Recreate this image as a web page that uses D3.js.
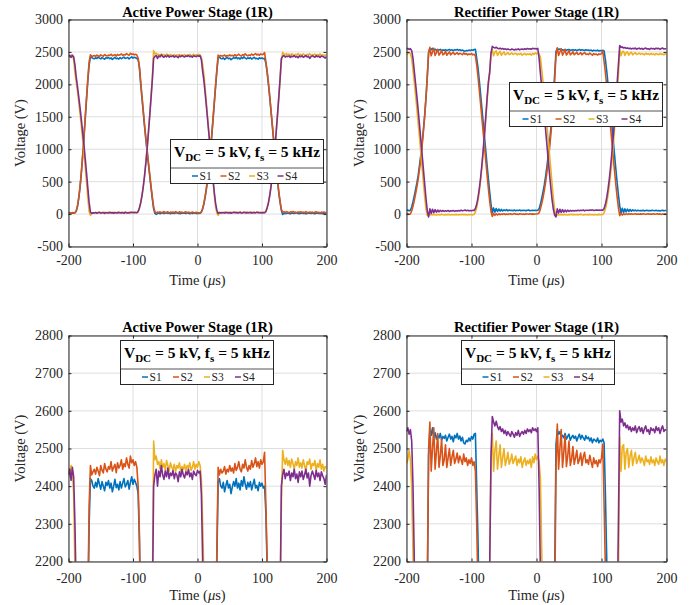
<!DOCTYPE html>
<html>
<head>
<meta charset="utf-8">
<title>Switch voltages, 1R</title>
<script src="https://cdn.jsdelivr.net/npm/d3@7"></script>
<style>
	body { margin: 0; background: #fff; }
	#scope-plot { display: block; font-family: "Liberation Serif", "Times New Roman", Times, serif; }
	#scope-plot text { white-space: pre; }
</style>
</head>
<body>
<svg id="scope-plot" width="691" height="605" viewBox="0 0 691 605"></svg>
<script>

// scope traces: one sample every 2 us, from -200 us to 200 us (201 samples)
const time_us = d3.range(-200, 201, 2);

// Active power stage, switch voltages (V)
const active_s1 = [
	15, 20, 12, 18, 15, 20, 45, 120, 250, 420,
	640, 900, 1180, 1480, 1780, 2060, 2300, 2420, 2415, 2400,
	2395, 2410, 2398, 2420, 2405, 2392, 2412, 2400, 2388, 2410,
	2402, 2415, 2395, 2408, 2385, 2400, 2418, 2396, 2405, 2390,
	2412, 2395, 2408, 2420, 2398, 2405, 2415, 2392, 2410, 2425,
	2405, 2418, 2410, 2400, 2380, 2250, 2000, 1780, 1560, 1340,
	1140, 950, 760, 580, 400, 230, 80, 10, -5, 8,
	15, 5, 12, 20, 8, 14, 22, 10, 15, 5,
	12, 18, 8, 15, 22, 10, 14, 6, 18, 12,
	15, 8, 20, 12, 5, 16, 10, 18, 12, 8,
	14, 10, 12, 30, 80, 160, 270, 400, 560, 750,
	960, 1190, 1440, 1700, 1960, 2200, 2410, 2420, 2400, 2395,
	2410, 2385, 2402, 2415, 2395, 2405, 2380, 2398, 2412, 2400,
	2420, 2395, 2408, 2390, 2415, 2400, 2425, 2405, 2392, 2410,
	2398, 2412, 2390, 2405, 2418, 2395, 2402, 2388, 2410, 2400,
	2408, 2395, 2400, 2330, 2180, 2000, 1800, 1580, 1360, 1140,
	920, 710, 510, 330, 180, 60, -5, 5, 12, 8,
	15, 10, 5, 18, 12, 8, 15, 20, 10, 6,
	12, 18, 8, 14, 5, 10, 16, 12, 8, 15,
	10, 5, 12, 18, 8, 14, 10, 6, 12, 15,
	10
];
const active_s2 = [
	18, 22, 15, 25, 20, 18, 50, 130, 265, 440,
	660, 920, 1200, 1500, 1800, 2090, 2350, 2455, 2430, 2438,
	2445, 2432, 2450, 2440, 2428, 2455, 2442, 2435, 2460, 2445,
	2438, 2452, 2445, 2465, 2440, 2450, 2458, 2436, 2462, 2448,
	2455, 2470, 2445, 2460, 2452, 2475, 2458, 2448, 2480, 2462,
	2470, 2455, 2465, 2450, 2400, 2270, 2030, 1810, 1590, 1370,
	1170, 980, 790, 610, 430, 260, 110, 35, 20, 30,
	25, 35, 20, 30, 40, 22, 28, 35, 18, 30,
	25, 32, 20, 38, 28, 22, 35, 25, 30, 18,
	28, 35, 22, 30, 25, 18, 32, 25, 20, 28,
	22, 18, 20, 35, 85, 170, 285, 420, 580, 770,
	985, 1215, 1465, 1725, 1985, 2230, 2450, 2430, 2445, 2435,
	2440, 2452, 2432, 2445, 2438, 2455, 2440, 2448, 2435, 2460,
	2442, 2450, 2465, 2445, 2438, 2458, 2448, 2470, 2450, 2440,
	2455, 2445, 2468, 2450, 2460, 2475, 2452, 2465, 2448, 2470,
	2458, 2465, 2490, 2350, 2200, 2020, 1820, 1600, 1380, 1160,
	940, 730, 530, 350, 200, 75, 30, 35, 25, 38,
	30, 22, 35, 28, 40, 25, 30, 20, 32, 28,
	35, 25, 30, 22, 38, 28, 20, 32, 25, 30,
	22, 30, 35, 25, 28, 18, 30, 25, 32, 22,
	25
];
const active_s3 = [
	2450, 2425, 2455, 2440, 2380, 2180, 2040, 1890, 1720, 1540,
	1350, 1150, 940, 720, 490, 250, 40, -20, 10, 20,
	15, 25, 18, 30, 20, 12, 25, 18, 28, 15,
	22, 30, 15, 25, 20, 28, 12, 22, 30, 18,
	25, 15, 28, 20, 32, 18, 24, 15, 28, 20,
	25, 18, 22, 20, 40, 100, 185, 300, 440, 610,
	810, 1030, 1280, 1540, 1810, 2090, 2520, 2470, 2480, 2458,
	2465, 2445, 2470, 2450, 2460, 2442, 2468, 2455, 2440, 2462,
	2450, 2445, 2458, 2438, 2455, 2448, 2462, 2440, 2452, 2445,
	2458, 2440, 2455, 2448, 2462, 2442, 2450, 2465, 2445, 2458,
	2450, 2465, 2455, 2420, 2300, 2150, 1920, 1690, 1450, 1210,
	980, 750, 520, 300, 120, 20, -20, 15, 22, 18,
	25, 30, 18, 22, 28, 15, 30, 20, 25, 35,
	22, 28, 18, 30, 25, 15, 28, 22, 32, 20,
	25, 18, 30, 22, 28, 20, 25, 32, 18, 25,
	22, 28, 20, 40, 100, 180, 290, 430, 600, 800,
	1020, 1270, 1530, 1800, 2080, 2350, 2495, 2470, 2458, 2475,
	2455, 2468, 2450, 2472, 2460, 2445, 2465, 2455, 2475, 2450,
	2462, 2448, 2470, 2455, 2440, 2465, 2458, 2472, 2445, 2460,
	2455, 2468, 2442, 2460, 2450, 2470, 2445, 2458, 2440, 2452,
	2448
];
const active_s4 = [
	2430, 2445, 2415, 2450, 2425, 2300, 2110, 1960, 1800, 1630,
	1450, 1260, 1060, 850, 630, 400, 180, 30, 10, 20,
	18, 25, 12, 22, 28, 15, 20, 25, 10, 22,
	20, 15, 28, 18, 22, 12, 25, 20, 15, 28,
	18, 25, 20, 12, 28, 22, 15, 25, 20, 30,
	22, 28, 25, 20, 38, 95, 175, 285, 425, 595,
	795, 1015, 1265, 1525, 1795, 2075, 2400, 2430, 2445, 2400,
	2440, 2425, 2455, 2430, 2418, 2440, 2425, 2448, 2420, 2435,
	2428, 2442, 2420, 2435, 2430, 2412, 2438, 2425, 2445, 2430,
	2422, 2438, 2430, 2445, 2425, 2435, 2418, 2440, 2432, 2428,
	2442, 2435, 2440, 2380, 2200, 2050, 1850, 1640, 1420, 1200,
	980, 760, 540, 340, 170, 60, 10, 25, 18, 22,
	20, 15, 28, 22, 18, 25, 12, 22, 28, 20,
	25, 18, 22, 30, 15, 20, 28, 22, 18, 25,
	20, 28, 15, 22, 25, 18, 30, 22, 20, 25,
	18, 22, 20, 38, 95, 175, 285, 425, 595, 795,
	1015, 1265, 1525, 1795, 2075, 2400, 2430, 2445, 2420, 2435,
	2428, 2440, 2415, 2435, 2425, 2445, 2420, 2432, 2410, 2438,
	2425, 2440, 2418, 2430, 2445, 2422, 2435, 2400, 2428, 2440,
	2430, 2418, 2442, 2425, 2435, 2415, 2438, 2428, 2420, 2405,
	2430
];

// Rectifier power stage, switch voltages (V)
const rect_s1 = [
	55, 62, 50, 60, 110, 190, 280, 380, 480, 600,
	750, 910, 1090, 1300, 1530, 1800, 2120, 2480, 2550, 2535,
	2555, 2530, 2542, 2525, 2535, 2528, 2540, 2522, 2532, 2527,
	2535, 2520, 2530, 2538, 2525, 2532, 2518, 2535, 2528, 2540,
	2525, 2533, 2520, 2530, 2515, 2512, 2522, 2518, 2528, 2520,
	2532, 2525, 2538, 2540, 2400, 2260, 2060, 1850, 1630, 1410,
	1190, 970, 750, 540, 340, 150, 20, 95, 30, 85,
	40, 78, 45, 72, 48, 65, 52, 68, 50, 62,
	55, 60, 52, 62, 50, 58, 55, 62, 52, 58,
	55, 60, 50, 58, 62, 52, 56, 60, 54, 58,
	55, 60, 80, 150, 240, 340, 450, 580, 730, 900,
	1090, 1310, 1550, 1830, 2160, 2510, 2550, 2538, 2545, 2530,
	2535, 2528, 2540, 2525, 2532, 2538, 2522, 2530, 2535, 2527,
	2533, 2520, 2530, 2538, 2525, 2535, 2528, 2522, 2534, 2526,
	2530, 2520, 2528, 2515, 2525, 2522, 2518, 2528, 2515, 2522,
	2518, 2525, 2515, 2380, 2210, 2010, 1800, 1580, 1360, 1140,
	920, 700, 490, 300, 130, 15, 90, 25, 80, 35,
	75, 40, 70, 45, 65, 50, 62, 48, 58, 52,
	56, 50, 60, 48, 55, 58, 50, 56, 52, 60,
	54, 50, 58, 52, 56, 48, 55, 58, 50, 54,
	55
];
const rect_s2 = [
	2, 5, -3, 0, 50, 120, 210, 310, 420, 540,
	690, 860, 1050, 1270, 1510, 1790, 2120, 2500, 2570, 2440,
	2500, 2555, 2445, 2490, 2540, 2450, 2480, 2525, 2455, 2470,
	2510, 2450, 2475, 2500, 2455, 2478, 2495, 2460, 2472, 2488,
	2462, 2480, 2470, 2458, 2485, 2465, 2475, 2455, 2470, 2460,
	2475, 2455, 2465, 2440, 2300, 2120, 1910, 1700, 1480, 1260,
	1040, 820, 600, 390, 200, 40, -35, 10, -20, 5,
	-15, 5, -10, 0, -5, 5, -8, 2, -5, 0,
	5, -5, 0, 8, -3, 2, -6, 4, 0, -4,
	2, -5, 5, 0, -3, 6, -2, 3, -4, 2,
	0, 5, 20, 80, 160, 250, 360, 490, 640, 810,
	1000, 1220, 1460, 1740, 2070, 2450, 2565, 2445, 2500, 2550,
	2450, 2490, 2535, 2452, 2480, 2520, 2455, 2472, 2505, 2458,
	2475, 2495, 2460, 2470, 2488, 2455, 2478, 2490, 2462, 2470,
	2458, 2482, 2465, 2450, 2475, 2460, 2468, 2452, 2470, 2462,
	2475, 2512, 2350, 2180, 1980, 1770, 1550, 1330, 1110, 890,
	670, 460, 270, 100, -25, 10, -15, 5, -8, 3,
	-5, 4, -3, 6, -2, 0, 5, -4, 2, -3,
	3, -2, 5, 0, -4, 2, 6, -3, 1, -2,
	4, -3, 0, 5, -2, 3, -5, 2, 0, 4,
	0
];
const rect_s3 = [
	2460, 2470, 2495, 2470, 2400, 2220, 2030, 1830, 1620, 1400,
	1180, 950, 720, 490, 270, 80, -20, -10, -15, -8,
	-12, -5, -10, -15, -6, -10, -12, -4, -10, -14,
	-8, -12, -5, -10, -14, -6, -10, -12, -5, -10,
	-12, -6, -10, -4, -12, -8, -10, -14, -6, -10,
	-8, -12, -6, 30, 100, 210, 350, 520, 720, 950,
	1200, 1470, 1750, 2000, 2180, 2470, 2540, 2440, 2495, 2520,
	2445, 2480, 2510, 2450, 2475, 2500, 2455, 2470, 2490, 2458,
	2468, 2485, 2460, 2470, 2480, 2455, 2472, 2462, 2478, 2450,
	2465, 2475, 2455, 2468, 2460, 2472, 2450, 2478, 2462, 2485,
	2470, 2480, 2465, 2420, 2230, 2040, 1830, 1610, 1380, 1150,
	920, 690, 460, 240, 60, -25, -10, -15, -6, -12,
	-8, -12, -5, -10, -14, -8, -10, -4, -12, -8,
	-10, -6, -12, -8, -4, -10, -14, -6, -10, -8,
	-12, -5, -10, -8, -14, -6, -10, -12, -5, -8,
	-10, -6, 20, 80, 170, 290, 440, 620, 830, 1060,
	1310, 1580, 1870, 2150, 2530, 2440, 2505, 2510, 2445, 2490,
	2500, 2450, 2480, 2495, 2455, 2475, 2490, 2460, 2470, 2482,
	2462, 2475, 2468, 2455, 2480, 2465, 2470, 2458, 2478, 2462,
	2470, 2455, 2475, 2465, 2458, 2480, 2462, 2470, 2455, 2472,
	2465
];
const rect_s4 = [
	2545, 2555, 2538, 2550, 2520, 2400, 2200, 2010, 1810, 1600,
	1380, 1150, 920, 690, 460, 240, 50, -45, 80, 10,
	75, 20, 68, 28, 62, 35, 58, 40, 55, 42,
	52, 45, 55, 40, 50, 48, 56, 42, 52, 46,
	55, 48, 60, 50, 55, 62, 52, 58, 50, 56,
	52, 58, 55, 85, 150, 255, 390, 560, 760, 990,
	1240, 1510, 1790, 2040, 2190, 2480, 2585, 2570, 2560, 2572,
	2558, 2550, 2558, 2545, 2552, 2540, 2548, 2535, 2545, 2538,
	2532, 2545, 2538, 2530, 2542, 2535, 2548, 2532, 2540, 2545,
	2538, 2548, 2540, 2552, 2545, 2550, 2542, 2555, 2548, 2552,
	2545, 2555, 2400, 2170, 1960, 1750, 1530, 1300, 1070, 840,
	620, 410, 220, 70, -20, -45, 80, 15, 75, 25,
	68, 30, 62, 35, 60, 40, 58, 45, 55, 48,
	56, 50, 60, 52, 58, 55, 62, 50, 58, 60,
	55, 62, 58, 65, 56, 60, 64, 58, 62, 60,
	62, 58, 85, 150, 250, 380, 540, 730, 950, 1190,
	1450, 1730, 2010, 2300, 2600, 2570, 2578, 2560, 2568, 2555,
	2562, 2550, 2558, 2545, 2555, 2548, 2560, 2542, 2552, 2558,
	2545, 2555, 2540, 2552, 2560, 2545, 2550, 2538, 2555, 2548,
	2552, 2542, 2558, 2548, 2555, 2540, 2552, 2560, 2545, 2550,
	2548
];

const series_names = ['S1', 'S2', 'S3', 'S4'];
const series_colors = ['#0072bd', '#d95319', '#edb120', '#7e2f8e'];

const stage_titles = ['Active Power Stage (1R)', 'Rectifier Power Stage (1R)'];
const time_ticks = [-200, -100, 0, 100, 200];
const volt_ticks_full = [-500, 0, 500, 1000, 1500, 2000, 2500, 3000];
const volt_ticks_zoom = [2200, 2300, 2400, 2500, 2600, 2700, 2800];

const axis_color = '#262626';
const grid_color = '#dedede';


class ScopePanel {

	makeLegend(g, box) {
		const width = 153, height = 44;

		const legend = g.append('g')
			.attr('class', 'legend')
			.attr('transform', 'translate(' + box.x + ',' + box.y + ')');

		legend.append('rect')
			.attr('width', width)
			.attr('height', height)
			.attr('fill', 'white')
			.attr('stroke', axis_color)
			.attr('stroke-width', 1);

		// separator between the title and the entries
		legend.append('line')
			.attr('x1', 0).attr('x2', width)
			.attr('y1', 28.5).attr('y2', 28.5)
			.attr('stroke', axis_color)
			.attr('stroke-width', 0.8);

		// V_DC = 5 kV, f_s = 5 kHz
		const title = legend.append('text')
			.attr('x', width / 2)
			.attr('y', 17.5)
			.attr('text-anchor', 'middle')
			.attr('fill', 'black')
			.style('font-weight', 'bold')
			.style('font-size', '15.5px');
		title.append('tspan').text('V');
		title.append('tspan').attr('dy', 4).style('font-size', '11px').text('DC');
		title.append('tspan').attr('dy', -4).text(' = 5 kV, f');
		title.append('tspan').attr('dy', 4).style('font-size', '11px').text('s');
		title.append('tspan').attr('dy', -4).text(' = 5 kHz');

		const entry = legend.selectAll('g.entry')
			.data(series_names)
			.enter()
			.append('g')
				.attr('class', 'entry')
				.attr('transform', (d, i) => 'translate(' + (box.first + i * box.step) + ',36.5)');

		entry.append('line')
			.attr('x1', 0).attr('x2', 6)
			.attr('stroke', (d, i) => series_colors[i])
			.attr('stroke-width', 1.5);

		entry.append('text')
			.attr('x', 7.5)
			.attr('y', 4)
			.attr('fill', axis_color)
			.style('font-size', '11.5px')
			.text(d => d);
	}

	constructor(svg, id, title, traces, y_ticks, frame, legend_box) {
		this.svg = svg;

		const x = d3.scaleLinear()
			.domain([time_ticks[0], time_ticks[time_ticks.length - 1]])
			.range([frame.left, frame.right]);
		const y = d3.scaleLinear()
			.domain([y_ticks[0], y_ticks[y_ticks.length - 1]])
			.range([frame.bottom, frame.top]);

		const g = svg.append('g').attr('id', id);

		// grid
		const grid = g.append('g').attr('class', 'grid');
		grid.selectAll('line.vgrid')
			.data(time_ticks)
			.enter()
			.append('line')
				.attr('class', 'vgrid')
				.attr('x1', d => x(d)).attr('x2', d => x(d))
				.attr('y1', frame.top).attr('y2', frame.bottom);
		grid.selectAll('line.hgrid')
			.data(y_ticks)
			.enter()
			.append('line')
				.attr('class', 'hgrid')
				.attr('x1', frame.left).attr('x2', frame.right)
				.attr('y1', d => y(d)).attr('y2', d => y(d));
		grid.selectAll('line')
			.attr('stroke', grid_color)
			.attr('stroke-width', 1);

		// traces, clipped to the axes box
		svg.select('defs').append('clipPath')
			.attr('id', id + '-clip')
			.append('rect')
				.attr('x', frame.left)
				.attr('y', frame.top)
				.attr('width', frame.right - frame.left)
				.attr('height', frame.bottom - frame.top);

		const line = d3.line()
			.x((d, i) => x(time_us[i]))
			.y(d => y(d));

		g.append('g')
			.attr('clip-path', 'url(#' + id + '-clip)')
			.selectAll('path')
			.data(traces)
			.enter()
			.append('path')
				.attr('d', d => line(d))
				.attr('fill', 'none')
				.attr('stroke', (d, i) => series_colors[i])
				.attr('stroke-width', 1.6)
				.attr('stroke-linejoin', 'round');

		// axes, ticks pointing inwards, box on all four sides
		const fmt = d => String(d);
		const axes = [
			[d3.axisBottom(x).tickValues(time_ticks).tickFormat(fmt).tickPadding(frame.x_pad), 0, frame.bottom],
			[d3.axisTop(x).tickValues(time_ticks).tickFormat(''), 0, frame.top],
			[d3.axisLeft(y).tickValues(y_ticks).tickFormat(fmt).tickPadding(5.5), frame.left, 0],
			[d3.axisRight(y).tickValues(y_ticks).tickFormat(''), frame.right, 0]
		];
		axes.forEach(([axis, tx, ty]) => {
			const a = g.append('g')
				.attr('transform', 'translate(' + tx + ',' + ty + ')')
				.call(axis.tickSizeInner(-3).tickSizeOuter(0));
			a.select('.domain').attr('stroke', axis_color).attr('stroke-width', 1);
			a.selectAll('.tick line').attr('stroke', axis_color).attr('stroke-width', 1);
			a.selectAll('.tick text')
				.attr('fill', axis_color)
				.style('font-family', '"Liberation Serif", "Times New Roman", serif')
				.style('font-size', '14px');
		});

		// title
		g.append('text')
			.attr('x', (frame.left + frame.right) / 2)
			.attr('y', frame.title_y)
			.attr('text-anchor', 'middle')
			.attr('fill', 'black')
			.style('font-weight', 'bold')
			.style('font-size', '14.5px')
			.text(title);

		// axis labels
		const x_label = g.append('text')
			.attr('x', (frame.left + frame.right) / 2)
			.attr('y', frame.xlabel_y)
			.attr('text-anchor', 'middle')
			.attr('fill', axis_color)
			.style('font-size', '14.5px');
		x_label.append('tspan').text('Time (');
		x_label.append('tspan').style('font-style', 'italic').text('\u03bc');
		x_label.append('tspan').text('s)');

		g.append('text')
			.attr('transform', 'translate(' + frame.ylabel_x + ',' + ((frame.top + frame.bottom) / 2) + ') rotate(-90)')
			.attr('text-anchor', 'middle')
			.attr('fill', axis_color)
			.style('font-size', '14.5px')
			.text('Voltage (V)');

		this.makeLegend(g, legend_box);
	}
}


function whenDocumentLoaded(action) {
	if (document.readyState === "loading") {
		document.addEventListener("DOMContentLoaded", action);
	} else {
		action();
	}
}

whenDocumentLoaded(() => {
	const svg = d3.select('#scope-plot');
	svg.append('defs');

	const top_row = { top: 19.5, bottom: 246.5, title_y: 17, xlabel_y: 284.5, x_pad: 9 };
	const bottom_row = { top: 335.5, bottom: 561.5, title_y: 331.5, xlabel_y: 599.5, x_pad: 12 };
	const left_col = { left: 68.5, right: 326.5, ylabel_x: 25 };
	const right_col = { left: 406.5, right: 666.5, ylabel_x: 363.5 };

	const active = [active_s1, active_s2, active_s3, active_s4];
	const rectifier = [rect_s1, rect_s2, rect_s3, rect_s4];

	new ScopePanel(svg, 'active-full', stage_titles[0], active, volt_ticks_full,
		Object.assign({}, top_row, left_col), { x: 170.5, y: 139.5, first: 21.5, step: 28.5 });
	new ScopePanel(svg, 'rectifier-full', stage_titles[1], rectifier, volt_ticks_full,
		Object.assign({}, top_row, right_col), { x: 509.5, y: 82.5, first: 13, step: 33 });
	new ScopePanel(svg, 'active-zoom', stage_titles[0], active, volt_ticks_zoom,
		Object.assign({}, bottom_row, left_col), { x: 120.5, y: 340.5, first: 21.5, step: 31 });
	new ScopePanel(svg, 'rectifier-zoom', stage_titles[1], rectifier, volt_ticks_zoom,
		Object.assign({}, bottom_row, right_col), { x: 461.5, y: 340.5, first: 21, step: 30.5 });
});
</script>
</body>
</html>
